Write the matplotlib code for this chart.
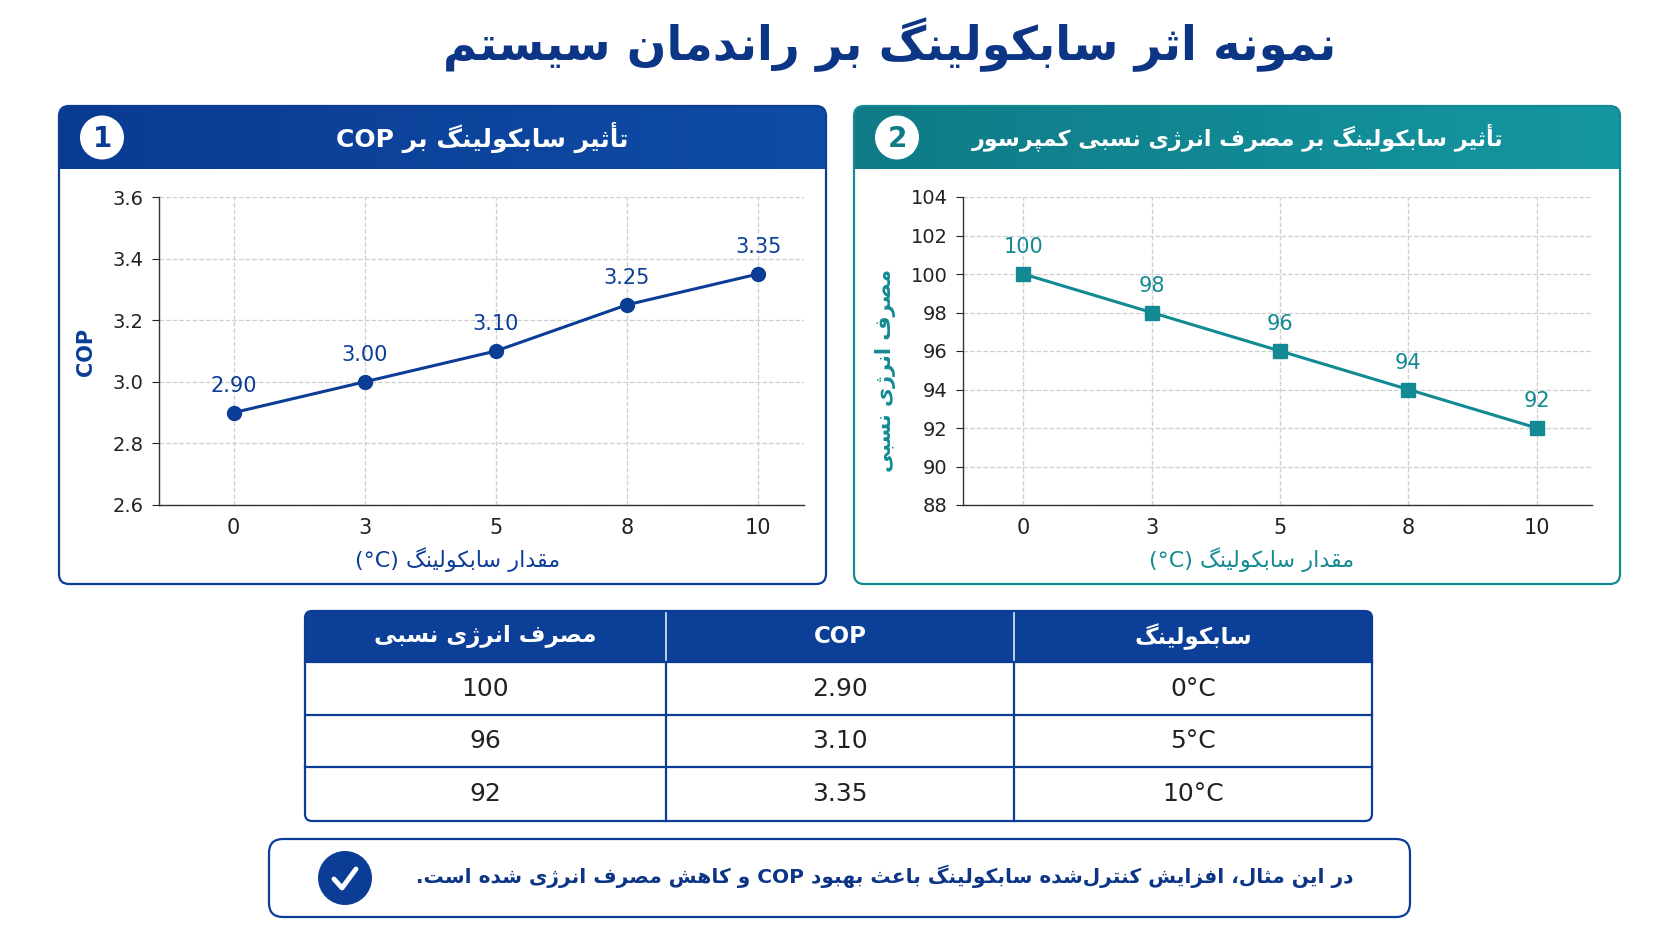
import numpy as np
import matplotlib
matplotlib.use("Agg")
import matplotlib.pyplot as plt
from matplotlib.patches import FancyBboxPatch, Circle, Rectangle
from matplotlib.lines import Line2D
from matplotlib.colors import LinearSegmentedColormap

plt.rcParams['font.family'] = ['DejaVu Sans']

# ---------------- data ----------------
subcooling = [0, 3, 5, 8, 10]
cop_values = [2.90, 3.00, 3.10, 3.25, 3.35]
energy_values = [100, 98, 96, 94, 92]
cop_yticks = [2.6, 2.8, 3.0, 3.2, 3.4, 3.6]
energy_yticks = [88, 90, 92, 94, 96, 98, 100, 102, 104]
table_subcooling = [0, 5, 10]
table_cop = [2.90, 3.10, 3.35]
table_energy = [100, 96, 92]

# ---------------- minimal Persian shaping ----------------
FORMS = {
    '\u0627': ('\uFE8D', '\uFE8E', None, None),
    '\u0623': ('\uFE83', '\uFE84', None, None),
    '\u0628': ('\uFE8F', '\uFE90', '\uFE91', '\uFE92'),
    '\u062A': ('\uFE95', '\uFE96', '\uFE97', '\uFE98'),
    '\u062B': ('\uFE99', '\uFE9A', '\uFE9B', '\uFE9C'),
    '\u062F': ('\uFEA9', '\uFEAA', None, None),
    '\u0631': ('\uFEAD', '\uFEAE', None, None),
    '\u0632': ('\uFEAF', '\uFEB0', None, None),
    '\u0633': ('\uFEB1', '\uFEB2', '\uFEB3', '\uFEB4'),
    '\u0634': ('\uFEB5', '\uFEB6', '\uFEB7', '\uFEB8'),
    '\u0635': ('\uFEB9', '\uFEBA', '\uFEBB', '\uFEBC'),
    '\u0639': ('\uFEC9', '\uFECA', '\uFECB', '\uFECC'),
    '\u0641': ('\uFED1', '\uFED2', '\uFED3', '\uFED4'),
    '\u0642': ('\uFED5', '\uFED6', '\uFED7', '\uFED8'),
    '\u0644': ('\uFEDD', '\uFEDE', '\uFEDF', '\uFEE0'),
    '\u0645': ('\uFEE1', '\uFEE2', '\uFEE3', '\uFEE4'),
    '\u0646': ('\uFEE5', '\uFEE6', '\uFEE7', '\uFEE8'),
    '\u0647': ('\uFEE9', '\uFEEA', '\uFEEB', '\uFEEC'),
    '\u0648': ('\uFEED', '\uFEEE', None, None),
    '\u06CC': ('\uFBFC', '\uFBFD', '\uFBFE', '\uFBFF'),
    '\u06A9': ('\uFB8E', '\uFB8F', '\uFB90', '\uFB91'),
    '\u06AF': ('\uFB92', '\uFB93', '\uFB94', '\uFB95'),
    '\u067E': ('\uFB56', '\uFB57', '\uFB58', '\uFB59'),
    '\u0698': ('\uFB8A', '\uFB8B', None, None),
}


def shape(s):
    out = []
    n = len(s)
    for i, c in enumerate(s):
        if c not in FORMS:
            if c != '\u200c':
                out.append(c)
            continue
        f = FORMS[c]
        prev = s[i - 1] if i > 0 else None
        nxt = s[i + 1] if i < n - 1 else None
        jp = prev in FORMS and FORMS[prev][2] is not None
        jn = nxt in FORMS and f[2] is not None
        if jp and jn:
            g = f[3]
        elif jp:
            g = f[1]
        elif jn:
            g = f[2]
        else:
            g = f[0]
        out.append(g)
    return ''.join(out)


def fa(s):
    return shape(s)[::-1]


# ---------------- layout helpers ----------------
W, H = 1672, 941
fig = plt.figure(figsize=(W / 100, H / 100), dpi=100)
fig.patch.set_facecolor('white')


def rect(x0, y0, x1, y1):
    return [x0 / W, 1 - y1 / H, (x1 - x0) / W, (y1 - y0) / H]


bg = fig.add_axes([0, 0, 1, 1], zorder=0)
bg.set_xlim(0, W)
bg.set_ylim(H, 0)
bg.axis('off')

NAVY = '#0c3d96'
NAVY_D = '#0d3586'
TEAL = '#138a93'
TXT = '#222222'

# title
bg.text(890, 45, fa("نمونه اثر سابکولینگ بر راندمان سیستم"), ha='center', va='center',
        fontsize=33.5, fontweight='bold', color=NAVY_D)


def panel(x0, y0, x1, y1, hb, c1, c2, edge, num):
    box = FancyBboxPatch((x0, y0), x1 - x0, y1 - y0,
                         boxstyle='round,pad=0,rounding_size=10',
                         facecolor='white', edgecolor='none', zorder=1)
    bg.add_patch(box)
    grad = np.linspace(0, 1, 256).reshape(1, -1)
    cmap = LinearSegmentedColormap.from_list('g', [c1, c2])
    im = bg.imshow(grad, cmap=cmap, extent=[x0, x1, hb, y0], aspect='auto',
                   zorder=2, interpolation='bicubic')
    im.set_clip_path(box)
    border = FancyBboxPatch((x0, y0), x1 - x0, y1 - y0,
                            boxstyle='round,pad=0,rounding_size=10',
                            facecolor='none', edgecolor=edge, lw=1.6, zorder=3)
    bg.add_patch(border)
    cx, cy = x0 + 43, (y0 + hb) / 2
    bg.add_patch(Circle((cx, cy), 22, facecolor='white', edgecolor='none', zorder=4))
    bg.text(cx, cy + 1, num, ha='center', va='center', fontsize=20,
            fontweight='bold', color=c1, zorder=5)
    return cy


cy1 = panel(59, 106, 826, 584, 169, '#0a3b92', '#0f4ca6', NAVY, '1')
cy2 = panel(854, 106, 1620, 584, 169, '#0e7b86', '#1597a2', TEAL, '2')
bg.text(482, cy1, 'COP ' + fa("تأثیر سابکولینگ بر"), ha='center', va='center',
        fontsize=18, fontweight='bold', color='white', zorder=6)
bg.text(1238, cy2, fa("تأثیر سابکولینگ بر مصرف انرژی نسبی کمپرسور"), ha='center',
        va='center', fontsize=16, fontweight='bold', color='white', zorder=6)


def chart(r, xlim, y, yticks, color, marker, ms, labels_fmt):
    ax = fig.add_axes(r, zorder=2)
    ax.set_facecolor('none')
    xs = np.arange(len(subcooling))
    ax.plot(xs, y, color=color, lw=2.2, marker=marker, ms=ms, zorder=3)
    for xi, yi in zip(xs, y):
        ax.annotate(labels_fmt(yi), (xi, yi), xytext=(0, 12), textcoords='offset points',
                    ha='center', va='bottom', fontsize=15, color=color)
    ax.set_xlim(*xlim)
    ax.set_ylim(yticks[0], yticks[-1])
    ax.set_yticks(yticks)
    ax.set_xticks(xs)
    ax.set_xticklabels([str(v) for v in subcooling])
    ax.grid(True, color='#cfcfcf', ls='--', lw=0.9)
    ax.set_axisbelow(True)
    for s in ['top', 'right']:
        ax.spines[s].set_visible(False)
    for s in ['left', 'bottom']:
        ax.spines[s].set_color('#333333')
        ax.spines[s].set_linewidth(1.0)
    ax.tick_params(axis='x', length=0, labelsize=15, colors=TXT, pad=9)
    ax.tick_params(axis='y', length=5, labelsize=14, colors=TXT, pad=6)
    return ax


ax1 = chart(rect(159, 197, 804, 505), (-0.57, 4.35), cop_values, cop_yticks, NAVY, 'o', 10,
            lambda v: f"{v:.2f}")
ax1.set_yticklabels([f"{v:.1f}" for v in cop_yticks])
ax2 = chart(rect(963, 197, 1592, 505), (-0.47, 4.43), energy_values, energy_yticks, TEAL, 's', 10.5,
            lambda v: f"{v:d}")

bg.text(86, 352, 'COP', rotation=90, ha='center', va='center', fontsize=15,
        fontweight='bold', color=NAVY, zorder=6)
bg.text(885, 370, fa("مصرف انرژی نسبی"), rotation=90, ha='center', va='center',
        fontsize=15, fontweight='bold', color=TEAL, zorder=6)
bg.text(458, 560, '(°C) ' + fa("مقدار سابکولینگ"), ha='center', va='center',
        fontsize=16, color=NAVY, zorder=6)
bg.text(1252, 560, '(°C) ' + fa("مقدار سابکولینگ"), ha='center', va='center',
        fontsize=16, color=TEAL, zorder=6)

# ---------------- table ----------------
cols = [305, 666, 1014, 1372]
rows = [611, 662, 715, 767, 821]
tbox = FancyBboxPatch((cols[0], rows[0]), cols[-1] - cols[0], rows[-1] - rows[0],
                      boxstyle='round,pad=0,rounding_size=7', facecolor='white',
                      edgecolor='none', zorder=1)
bg.add_patch(tbox)
hdr = Rectangle((cols[0], rows[0]), cols[-1] - cols[0], rows[1] - rows[0],
                facecolor='#0b3f98', edgecolor='none', zorder=2)
bg.add_patch(hdr)
hdr.set_clip_path(tbox)
bg.add_patch(FancyBboxPatch((cols[0], rows[0]), cols[-1] - cols[0], rows[-1] - rows[0],
                            boxstyle='round,pad=0,rounding_size=7', facecolor='none',
                            edgecolor=NAVY, lw=1.6, zorder=4))
for yy in rows[1:-1]:
    bg.plot([cols[0], cols[-1]], [yy, yy], color=NAVY, lw=1.6, zorder=3)
for xx in cols[1:-1]:
    bg.plot([xx, xx], [rows[0], rows[1]], color='#dfe7f5', lw=1.2, zorder=3)
    bg.plot([xx, xx], [rows[1], rows[-1]], color=NAVY, lw=1.6, zorder=3)

headers = [fa("مصرف انرژی نسبی"), 'COP', fa("سابکولینگ")]
for i, h in enumerate(headers):
    bg.text((cols[i] + cols[i + 1]) / 2, (rows[0] + rows[1]) / 2, h, ha='center',
            va='center', fontsize=16.5, fontweight='bold', color='white', zorder=5)
for r in range(len(table_subcooling)):
    vals = [f"{table_energy[r]:d}", f"{table_cop[r]:.2f}", f"{table_subcooling[r]:d}°C"]
    yc = (rows[r + 1] + rows[r + 2]) / 2
    for i, v in enumerate(vals):
        bg.text((cols[i] + cols[i + 1]) / 2, yc, v, ha='center', va='center',
                fontsize=18, color=TXT, zorder=5)

# ---------------- footer ----------------
bg.add_patch(FancyBboxPatch((269, 839), 1410 - 269, 917 - 839,
                            boxstyle='round,pad=0,rounding_size=14', facecolor='white',
                            edgecolor=NAVY, lw=1.6, zorder=2))
bg.add_patch(Circle((345, 878), 27, facecolor=NAVY, edgecolor='none', zorder=3))
bg.add_line(Line2D([334, 342, 356], [879, 888, 869], color='white', lw=3.5,
                   solid_capstyle='round', solid_joinstyle='round', zorder=4))
footer = (fa("و کاهش مصرف انرژی شده است.") + ' COP ' +
          fa("در این مثال، افزایش کنترل‌شده سابکولینگ باعث بهبود"))
bg.text(1354, 876, footer, ha='right', va='center', fontsize=14.5, fontweight='bold',
        color=NAVY_D, zorder=5)

fig.savefig('out.png', dpi=100, facecolor='white')
